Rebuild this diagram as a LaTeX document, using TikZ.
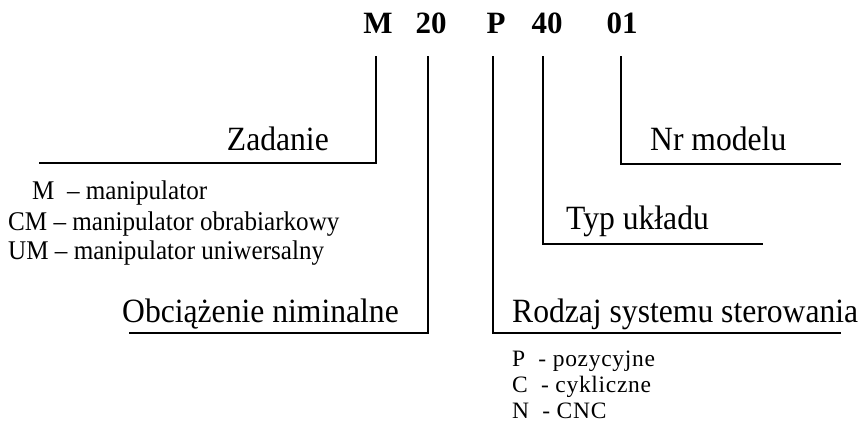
\documentclass[tikz,border=0pt]{standalone}
\usepackage{fontspec}
\setmainfont{Liberation Serif}
\newfontfamily\lbl[FakeStretch=0.93]{Liberation Serif}
\newfontfamily\lblwide[LetterSpace=3]{Liberation Serif}
\tikzset{
  ln/.style={line width=1.7pt, line cap=rect},
  toplbl/.style={font=\fontsize{31}{33}\selectfont\bfseries, inner sep=0pt, anchor=base},
  biglbl/.style={font=\lbl\fontsize{34}{36}\selectfont, inner sep=0pt},
  smalllbl/.style={font=\lbl\fontsize{27}{29}\selectfont, inner sep=0pt, anchor=base west},
  codelbl/.style={font=\lblwide\fontsize{23.5}{26}\selectfont, inner sep=0pt, anchor=base west},
}
\begin{document}
\begin{tikzpicture}[x=1pt,y=-1pt]
\useasboundingbox (0,0) rectangle (864,431);
% top code
\node[toplbl] (m)   at (378,33) {M};
\node[toplbl] (n20) at (431,33) {20};
\node[toplbl] (p)   at (496,33) {P};
\node[toplbl] (n40) at (547,33) {40};
\node[toplbl] (n01) at (622,33) {01};
% corners
\coordinate (mt) at (376,57);   \coordinate (mc) at (376,163);  \coordinate (me) at (40,163);
\coordinate (at) at (428,57);   \coordinate (ac) at (428,333);  \coordinate (ae) at (130,333);
\coordinate (pt) at (493,57);   \coordinate (pc) at (493,333);  \coordinate (pe) at (840,333);
\coordinate (bt) at (543,57);   \coordinate (bc) at (543,244);  \coordinate (be) at (762,244);
\coordinate (ct) at (621,57);   \coordinate (cc) at (621,164);  \coordinate (ce) at (840,164);
\draw[ln] (mt) -- (mc) -- (me);
\draw[ln] (at) -- (ac) -- (ae);
\draw[ln] (pt) -- (pc) -- (pe);
\draw[ln] (bt) -- (bc) -- (be);
\draw[ln] (ct) -- (cc) -- (ce);
% labels
\node[biglbl, anchor=base east] (zad) at (329,150) {Zadanie};
\node[biglbl, anchor=base west] (nr) at (650,150) {Nr modelu};
\node[biglbl, anchor=base west] (typ) at (566,229) {Typ układu};
\node[biglbl, anchor=base west] (obc) at (122,322) {Obciążenie niminalne};
\node[biglbl, anchor=base west] (rod) at (512,322) {Rodzaj systemu sterowania};
% lists
\node[smalllbl] (l1) at (32,199) {M\ \ – manipulator};
\node[smalllbl] (l2) at (8,230) {CM – manipulator obrabiarkowy};
\node[smalllbl] (l3) at (8,259) {UM – manipulator uniwersalny};
\node[codelbl] (r1) at (512,366) {P\ \ - pozycyjne};
\node[codelbl] (r2) at (512,392) {C\ \ - cykliczne};
\node[codelbl] (r3) at (512,418) {N\ \ - CNC};
\end{tikzpicture}
\end{document}
